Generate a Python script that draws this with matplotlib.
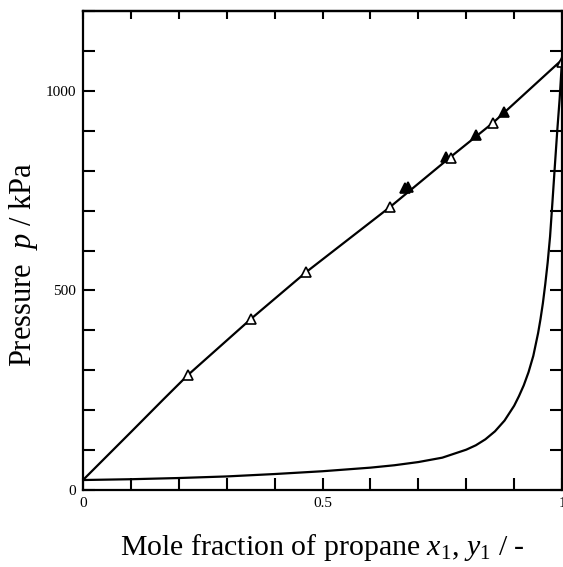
import numpy as np
import matplotlib
matplotlib.use("Agg")
from matplotlib import pyplot as plt

plt.rcParams['font.family'] = ['Liberation Serif', 'DejaVu Serif']
plt.rcParams['mathtext.fontset'] = 'custom'
plt.rcParams['mathtext.rm'] = 'Liberation Serif'
plt.rcParams['mathtext.it'] = 'Liberation Serif:italic'
plt.rcParams['mathtext.default'] = 'it'

# bubble-point line p(x1)
bub_x = [0.0, 0.1, 0.167, 0.219, 0.351, 0.466, 0.641, 0.768, 0.856, 1.0]
bub_p = [25, 145, 226, 288, 429, 546, 709, 835, 920, 1078]

# dew-point curve p(y1)
dew_y = [0.0, 0.1, 0.2, 0.3, 0.4, 0.5, 0.6, 0.65, 0.7, 0.75, 0.8, 0.82, 0.84,
         0.86, 0.88, 0.9, 0.91, 0.92, 0.93, 0.94, 0.95, 0.955, 0.96, 0.965,
         0.97, 0.975, 0.98, 0.985, 0.99, 0.995, 1.0]
dew_p = [25, 27, 30, 34, 40, 47, 56, 62, 70, 81, 101, 112, 127,
         147, 174, 211, 235, 262, 295, 336, 393, 428, 468, 516,
         570, 635, 722, 812, 900, 980, 1078]

# experimental points
open_x = [0.219, 0.351, 0.466, 0.641, 0.768, 0.856, 1.0]
open_p = [288, 429, 546, 709, 832, 920, 1073]
fill_x = [0.672, 0.678, 0.758, 0.820, 0.879]
fill_p = [757, 760, 835, 890, 947]

fig = plt.figure(figsize=(5.63, 5.67), dpi=100)
ax = fig.add_axes([0.1474, 0.1358, 0.8509, 0.8448])

ax.plot(bub_x, bub_p, color='black', lw=1.6)
ax.plot(dew_y, dew_p, color='black', lw=1.6)
ax.plot(fill_x, fill_p, ls='none', marker='^', ms=7, mfc='black', mec='black', mew=1.2)
ax.plot(open_x, open_p, ls='none', marker='^', ms=7, mfc='white', mec='black', mew=1.2,
        clip_on=False)

ax.set_xlim(0, 1)
ax.set_ylim(0, 1200)
xt = np.arange(0, 1.01, 0.1)
ax.set_xticks(xt)
ax.set_xticklabels(['0', '', '', '', '', '0.5', '', '', '', '', '1'])
ax.set_yticks(np.arange(0, 1201, 100))
ax.set_yticklabels(['0', '', '', '', '', '500', '', '', '', '', '1000', '', ''])

ax.tick_params(direction='in', length=8.5, width=1.5, labelsize=11,
               top=False, right=True, pad=5)
top = ax.secondary_xaxis('top')
top.set_xticks(xt)
top.set_xticklabels([])
top.tick_params(direction='in', length=5.5, width=1.5)
top.spines['top'].set_linewidth(1.6)
for s in ax.spines.values():
    s.set_linewidth(1.6)

ax.set_xlabel(r'Mole fraction of propane $x_1$, $y_1$ / -',
              fontsize=21.5, labelpad=16)
ax.set_ylabel(r'Pressure  $p$ / kPa', fontsize=22)
ax.yaxis.set_label_coords(-0.09, 0.47)

fig.savefig('out.png', dpi=100)
